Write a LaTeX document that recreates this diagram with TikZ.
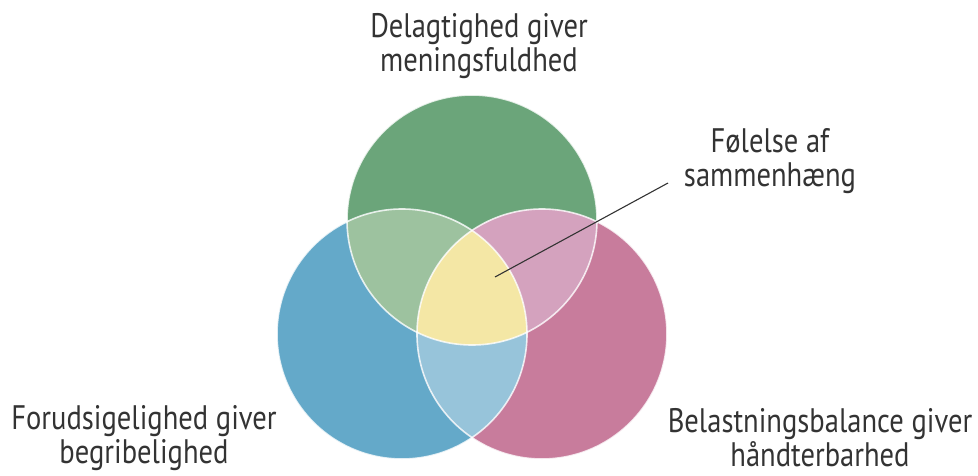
\documentclass[tikz,border=0pt]{standalone}
\usepackage{fontspec}
\setmainfont{PT Sans}[FakeStretch=0.84]
\definecolor{greenc}{HTML}{6BA57A}
\definecolor{bluec}{HTML}{64A9C9}
\definecolor{pinkc}{HTML}{C87C9C}
\definecolor{greenblue}{HTML}{9DC29F}
\definecolor{greenpink}{HTML}{D4A2BE}
\definecolor{bluepink}{HTML}{97C4DA}
\definecolor{corec}{HTML}{F4E7A5}
\definecolor{textc}{HTML}{333333}
\tikzset{
  label/.style={align=center,text=textc,font=\fontsize{34}{34}\selectfont},
  rim/.style={draw=white,draw opacity=0.8,line width=1.6pt}
}
\begin{document}
\begin{tikzpicture}[x=1pt,y=-1pt]
\useasboundingbox (0,0) rectangle (978,475);
\coordinate (g) at (472,220);
\coordinate (b) at (402,334);
\coordinate (p) at (542,334);

% the three circles
\fill[greenc] (g) circle (125);
\fill[bluec] (b) circle (125);
\fill[pinkc] (p) circle (125);

% overlaps
\begin{scope}
\clip (g) circle (125);
\fill[greenblue] (b) circle (125);
\fill[greenpink] (p) circle (125);
\end{scope}
\begin{scope}
\clip (b) circle (125);
\fill[bluepink] (p) circle (125);
\clip (p) circle (125);
\fill[corec] (g) circle (125);
\end{scope}

\foreach \c in {g,b,p}
{
\draw[rim] (\c) circle (125);
}

\node[label] (top) at (479,46) {Delagtighed giver\\meningsfuldhed};
\node[label] (left) at (144,438) {Forudsigelighed giver\\begribelighed};
\node[label] (right) at (820,438) {Belastningsbalance giver\\håndterbarhed};
\node[label] (sense) at (770,161) {Følelse af\\sammenhæng};

\coordinate (core) at (495,277);
\coordinate (tip) at (668,183);
\draw[textc,line width=1.1pt] (core) -- (tip);
\end{tikzpicture}
\end{document}
